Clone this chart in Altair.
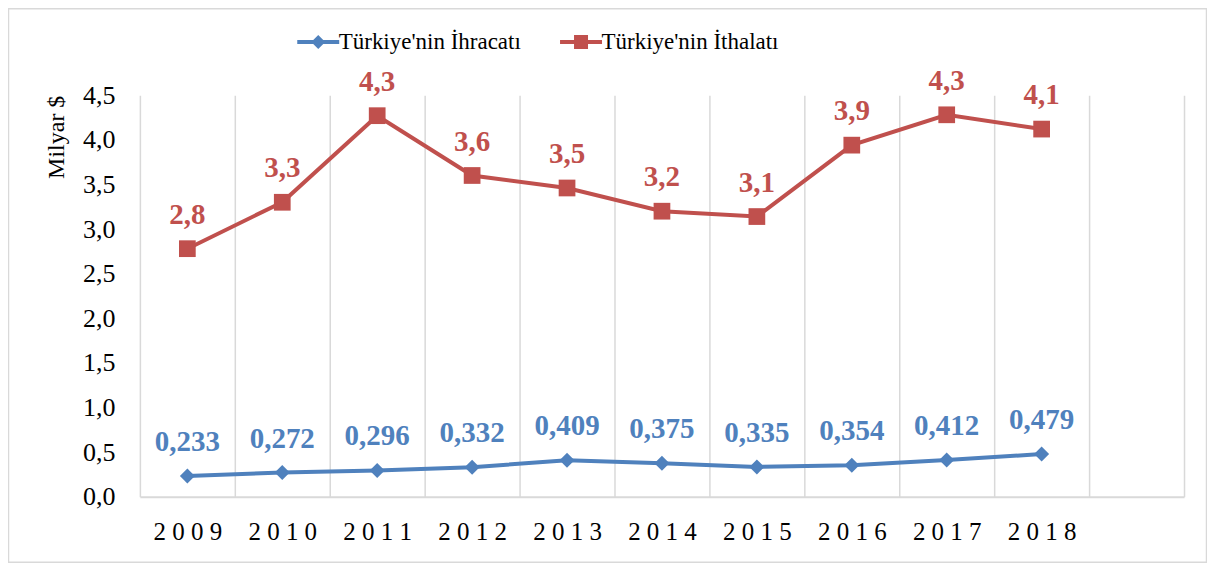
import altair as alt
import pandas as pd

years = ["2009", "2010", "2011", "2012", "2013", "2014", "2015", "2016", "2017", "2018"]
exports = [0.233, 0.272, 0.296, 0.332, 0.409, 0.375, 0.335, 0.354, 0.412, 0.479]
imports = [2.78, 3.30, 4.27, 3.60, 3.46, 3.20, 3.14, 3.94, 4.28, 4.12]
series = ["Türkiye'nin İhracatı", "Türkiye'nin İthalatı"]
colors = ["#4F81BD", "#C0504D"]
shapes = ["diamond", "square"]
label_formats = [".3f", ".1f"]
y_ticks = [0, 0.5, 1.0, 1.5, 2.0, 2.5, 3.0, 3.5, 4.0, 4.5]

FONT = "Liberation Serif"
W, H = 1045, 402

rows = []
for s, vals, fmt in zip(series, [exports, imports], label_formats):
    for y, v in zip(years, vals):
        rows.append({"year": y, "series": s, "value": v,
                     "label": format(v, fmt).replace(".", ",")})
df = pd.DataFrame(rows)

x_enc = alt.X(
    "year:N",
    scale=alt.Scale(domain=years + [" "], paddingInner=0, paddingOuter=0),
    axis=alt.Axis(
        title=None, tickBand="extent", grid=True, gridColor="#d9d9d9", gridWidth=1.5,
        domainColor="#d9d9d9", domainWidth=2, ticks=False, tickSize=0,
        labelPadding=23, labelFont=FONT, labelFontSize=25, labelColor="black",
        labelAngle=0, labelExpr="join(split(datum.label, ''), ' ')",
    ),
)
y_enc = alt.Y(
    "value:Q",
    scale=alt.Scale(domain=[0, 4.5], nice=False, zero=True),
    axis=alt.Axis(
        values=y_ticks, grid=False, domain=False, ticks=False, tickSize=0,
        labelPadding=25, labelFont=FONT, labelFontSize=26, labelColor="black",
        labelExpr="replace(format(datum.value, '.1f'), '.', ',')",
        title="Milyar $", titleFont=FONT, titleFontSize=24, titleFontWeight="normal",
        titleColor="black", titlePadding=14, titleAnchor="end",
    ),
)

base = alt.Chart(df)
layers = []
for s, c, sh in zip(series, colors, shapes):
    sub = base.transform_filter(alt.datum.series == s)
    layers.append(sub.mark_line(color=c, strokeWidth=4).encode(x=x_enc, y=y_enc))
    size = 225 if sh == "diamond" else 280
    layers.append(sub.mark_point(shape=sh, filled=True, opacity=1, color=c, size=size)
                  .encode(x=x_enc, y=y_enc))
    layers.append(sub.mark_text(color=c, font=FONT, fontSize=29, fontWeight="bold",
                                baseline="alphabetic", dy=-25)
                  .encode(x=x_enc, y=y_enc, text="label:N"))

# legend-only layer
diamond_path = "M-3,-0.29H3V0.29H-3Z M-1,0L0,-1L1,0L0,1Z"
square_path = "M-3,-0.29H3V0.29H-3Z M-1,-1H1V1H-1Z"
leg = alt.Legend(
    orient="none", legendX=167, legendY=-65, direction="horizontal", title=None,
    symbolSize=196, symbolStrokeWidth=0, labelOffset=9, columnPadding=38,
    padding=0, labelLimit=400,
)
legend_layer = base.transform_filter("false").mark_point(filled=True, opacity=1).encode(
    x=x_enc, y=y_enc,
    color=alt.Color("series:N", scale=alt.Scale(domain=series, range=colors), legend=leg),
    shape=alt.Shape("series:N", scale=alt.Scale(domain=series, range=[diamond_path, square_path]), legend=leg),
)

border = alt.Chart(pd.DataFrame({"a": [0]})).mark_rect(
    fillOpacity=0, stroke="#d9d9d9", strokeWidth=1.5
).encode(
    x=alt.value(-131.5), x2=alt.value(W + 22.5),
    y=alt.value(-86.5), y2=alt.value(H + 65.5),
)

chart = alt.layer(*layers, legend_layer, border).properties(
    width=W, height=H,
    autosize=alt.AutoSizeParams(type="none"),
    padding={"left": 132, "right": 23, "top": 87, "bottom": 66},
    background="white",
).configure_view(stroke=None).configure_legend(
    labelFont=FONT, labelFontSize=23, labelColor="black", labelLimit=400,
    symbolStrokeWidth=0,
)

chart.save("out.html", embed_options={"renderer": "svg", "actions": False})
